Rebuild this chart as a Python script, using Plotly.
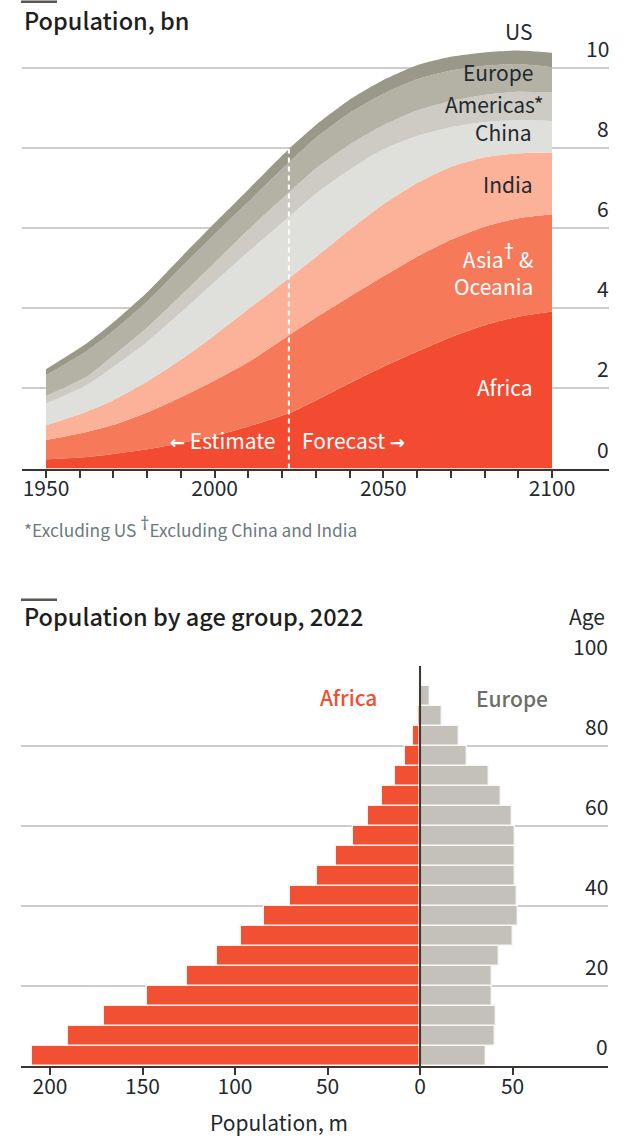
import plotly.graph_objects as go

FONT = "Noto Sans CJK SC"
DARK = "#1F2A30"

years = [1950, 1962, 1970, 1980, 1990, 2000, 2010, 2022, 2030, 2040, 2050, 2060, 2070, 2080, 2090, 2100]
africa = [.23, .29, .365, .48, .635, .815, 1.05, 1.38, 1.70, 2.13, 2.54, 2.92, 3.28, 3.58, 3.79, 3.92]
asia = [.48, .62, .725, .92, 1.145, 1.385, 1.61, 1.95, 2.07, 2.16, 2.26, 2.37, 2.43, 2.46, 2.46, 2.43]
india = [.37, .51, .62, .77, .94, 1.13, 1.32, 1.42, 1.51, 1.67, 1.80, 1.84, 1.82, 1.73, 1.62, 1.54]
china = [.54, .66, .83, .99, 1.18, 1.33, 1.43, 1.53, 1.58, 1.50, 1.37, 1.17, .99, .88, .83, .79]
americas = [.19, .21, .28, .36, .42, .48, .55, .61, .63, .63, .60, .64, .66, .68, .71, .71]
europe = [.52, .64, .62, .65, .70, .71, .70, .75, .77, .79, .79, .78, .76, .73, .69, .63]
us = [.15, .19, .21, .23, .25, .28, .31, .34, .32, .33, .34, .35, .34, .33, .34, .36]

stack_names = ["Africa", "Asia & Oceania", "India", "China", "Americas", "Europe", "US"]
stack_values = [africa, asia, india, china, americas, europe, us]
stack_colors = ["#F34B32", "#F67A5A", "#FBB299", "#DFDFDB", "#CDCBC3", "#B4B2A5", "#9A9889"]

ages = [2.5, 7.5, 12.5, 17.5, 22.5, 27.5, 32.5, 37.5, 42.5, 47.5, 52.5, 57.5, 62.5, 67.5, 72.5, 77.5, 82.5, 87.5, 92.5, 97.5]
africa_age = [209.9, 190.4, 170.8, 147.6, 126.1, 109.6, 96.8, 84.3, 70.1, 55.9, 45.6, 36.4, 27.9, 20.4, 13.5, 8.1, 3.6, 1.3, 0.2, 0]
europe_age = [35.5, 40.4, 41.1, 39, 39.1, 42.6, 50.5, 52.8, 52.3, 51.4, 51.4, 51.2, 49.8, 43.5, 37.2, 25.6, 20.8, 12.1, 5.4, 0]

pop_ticks = [0, 2, 4, 6, 8, 10]
age_ticks = [0, 20, 40, 60, 80, 100]
year_ticks = [1950, 2000, 2050, 2100]
year_minor = [1950, 1960, 1970, 1980, 1990, 2000, 2010, 2020, 2030, 2040, 2050, 2060, 2070, 2080, 2090, 2100]
pyr_ticks = [-200, -150, -100, -50, 0, 50]
pyr_labels = ["200", "150", "100", "50", "0", "50"]

W, H = 630, 1148


def py(p):
    return 1 - p / H


def px(p):
    return p / W


fig = go.Figure()
for name, vals, col in zip(stack_names, stack_values, stack_colors):
    fig.add_trace(go.Scatter(x=years, y=vals, name=name, stackgroup="one", mode="none",
                             fillcolor=col, line=dict(shape="spline", smoothing=0.6, width=0),
                             xaxis="x", yaxis="y", showlegend=False))

total_2022 = sum(v[years.index(2022)] for v in stack_values)
fig.add_trace(go.Scatter(x=[2022, 2022], y=[0, total_2022], mode="lines",
                         line=dict(color="white", width=2, dash="5px,4px"), showlegend=False,
                         xaxis="x", yaxis="y"))

fig.add_trace(go.Bar(y=ages, x=[-v for v in africa_age], orientation="h", width=5, name="Africa",
                     marker=dict(color="#F15033", line=dict(color="#F7F3EE", width=1.4)),
                     xaxis="x2", yaxis="y2", showlegend=False))
fig.add_trace(go.Bar(y=ages, x=europe_age, orientation="h", width=5, name="Europe",
                     marker=dict(color="#C3C1B9", line=dict(color="#F7F7F3", width=1.4)),
                     xaxis="x2", yaxis="y2", showlegend=False))
fig.add_trace(go.Scatter(x=[0, 0], y=[0, 100], mode="lines", line=dict(color="#3A3530", width=2),
                         xaxis="x2", yaxis="y2", showlegend=False))

ann = []


def text(t, x, y, size=21, color=DARK, anchor="left", xref="paper", yref="paper", yanchor="middle", weight=None, **kw):
    f = dict(family=FONT, size=size, color=color)
    if weight:
        f["weight"] = weight
    ann.append(dict(text=t, x=x, y=y, xref=xref, yref=yref, xanchor=anchor, yanchor=yanchor,
                    showarrow=False, font=f, **kw))


DAG = "<span style='font-family:Noto Sans;font-size:{}px'>†</span>"
ARW = "<span style='font-family:DejaVu Sans;font-size:18px'><b>{}</b></span>"

text("Population, bn", px(22), py(20), size=23.5, color="#1E1E1E", weight=500)
text("Population by age group, 2022", px(22), py(616), size=23.5, color="#1E1E1E", weight=500)

for v in pop_ticks:
    text(str(v), 2116.5, v, xref="x", yref="y", anchor="right", yanchor="bottom", yshift=3, xshift=3)
for v in age_ticks:
    text(str(v), 101.3, v, xref="x2", yref="y2", anchor="right", yanchor="bottom", yshift=3, xshift=3)

text("US", px(534), py(31), anchor="right")
text("Europe", px(535), py(72), anchor="right")
text("Americas*", px(546), py(104), anchor="right")
text("China", px(534), py(132), anchor="right")
text("India", px(535), py(184), anchor="right")
text("Asia<sup>" + DAG.format(21) + "</sup> &amp;<br>Oceania", px(535), py(269), anchor="right", color="white", align="right")
text("Africa", px(535), py(387), anchor="right", color="white")
text(ARW.format("←") + " Estimate", px(277), py(440), anchor="right", color="white")
text("Forecast " + ARW.format("→"), px(300), py(440), color="white")
text("*Excluding US <sup>" + DAG.format(18) + "</sup>Excluding China and India", px(22), py(526.5),
     size=17.3, color="#6B7A80")

text("Age", px(607), py(616), anchor="right")
text("Africa", px(348), py(697), anchor="center", color="#F15033", weight=500)
text("Europe", px(512), py(698), anchor="center", color="#6B6F68", weight=500)
text("Population, m", px(279), py(1122), anchor="center")

rule = dict(type="rect", xref="paper", yref="paper", fillcolor="#5A5652", line=dict(width=0))
shapes = [dict(rule, x0=px(21), x1=px(57), y0=py(3), y1=py(0.5)),
          dict(rule, x0=px(21), x1=px(57), y0=py(601), y1=py(598.5))]

axis_common = dict(showline=True, linecolor="#3A3530", linewidth=2, ticks="outside", ticklen=7,
                   tickcolor="#3A3530", tickwidth=1.5, showgrid=False, zeroline=False,
                   tickfont=dict(family=FONT, size=21, color=DARK), ticklabelstandoff=-7)
grid_y = dict(showline=False, showgrid=True, gridcolor="#CCCCCC", gridwidth=1.6, zeroline=False,
              ticks="", showticklabels=False)

fig.update_layout(
    width=W, height=H, margin=dict(l=0, r=0, t=0, b=0), paper_bgcolor="white", plot_bgcolor="white",
    barmode="overlay", bargap=0,
    xaxis=dict(axis_common, domain=[px(22), px(609)], range=[1942.885, 2116.9], tickvals=year_ticks,
               minor=dict(tickvals=year_minor, ticks="outside", ticklen=7, tickcolor="#3A3530", tickwidth=1.5),
               anchor="y"),
    yaxis=dict(grid_y, domain=[py(468.5), py(28)], range=[0, 11], tickvals=pop_ticks, anchor="x"),
    xaxis2=dict(axis_common, domain=[px(21), px(608)], range=[-215.7, 101.6], tickvals=pyr_ticks,
                ticktext=pyr_labels, anchor="y2"),
    yaxis2=dict(grid_y, domain=[py(1066.3), py(666)], range=[0, 100], tickvals=age_ticks, anchor="x2"),
    annotations=ann, shapes=shapes,
)

fig.write_html("out.html", post_script="document.body.style.margin='0';document.documentElement.style.overflow='hidden';",
               config=dict(displayModeBar=False))
